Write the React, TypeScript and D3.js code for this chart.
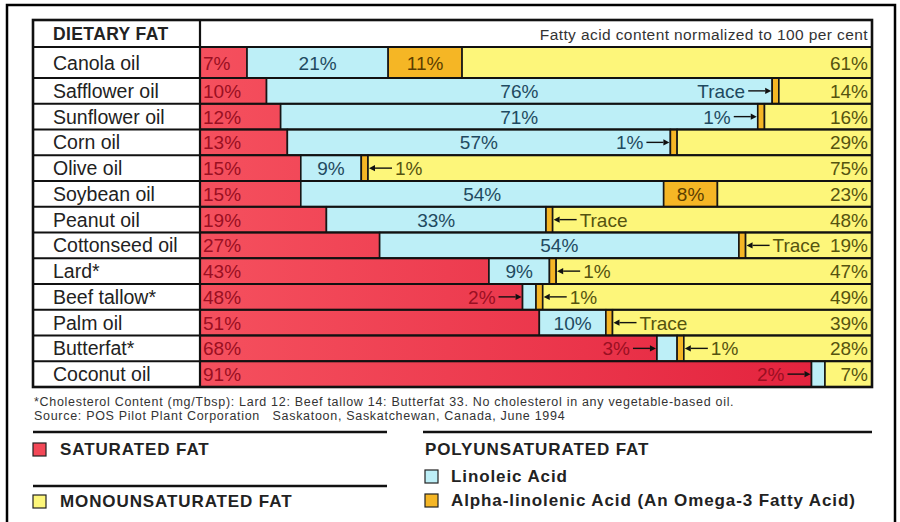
import React from 'react'
import * as d3 from 'd3'

// Fatty acid content, normalized to 100 per cent
const fats = [
    'Canola oil', 'Safflower oil', 'Sunflower oil', 'Corn oil', 'Olive oil', 'Soybean oil',
    'Peanut oil', 'Cottonseed oil', 'Lard*', 'Beef tallow*', 'Palm oil', 'Butterfat*', 'Coconut oil'
];
const saturated = [7, 10, 12, 13, 15, 15, 19, 27, 43, 48, 51, 68, 91];
const linoleic = [21, 76, 71, 57, 9, 54, 33, 54, 9, 2, 10, 3, 2];
const alphaLinolenic: (number | 'Trace' | null)[] = [11, 'Trace', 1, 1, 1, 8, 'Trace', 'Trace', 1, 1, 'Trace', 1, null];
const monounsaturated = [61, 14, 16, 29, 75, 23, 48, 19, 47, 49, 39, 28, 7];

// where the small values get their label (with an arrow when outside)
const linoleicLabel = ['in', 'in', 'in', 'in', 'in', 'in', 'in', 'in', 'in', 'left', 'in', 'left', 'left'];
const alphaLabel = ['in', 'left', 'left', 'left', 'right', 'in', 'right', 'right', 'right', 'right', 'right', 'right', 'none'];

const footnotes = [
    '*Cholesterol Content (mg/Tbsp): Lard 12: Beef tallow 14: Butterfat 33. No cholesterol in any vegetable-based oil.',
    'Source: POS Pilot Plant Corporation   Saskatoon, Saskatchewan, Canada, June 1994'
];

const width = 900;
const height = 522;
const tableLeft = 33, plotLeft = 200, plotRight = 872;
const tableTop = 20, headerBottom = 47, firstRowBottom = 78, tableBottom = 387;
const traceWidth = 1;

const font = "'Liberation Sans', Arial, Helvetica, sans-serif";
const fill = {sat: '#f34857', lin: '#bdeff7', ala: '#f5b625', mono: '#fdf67a'};
const ink = {sat: '#9a0f22', lin: '#1f4a60', ala: '#5c3e00', mono: '#55530f'};

const rest = d3.scaleBand().domain(fats.slice(1)).range([firstRowBottom, tableBottom]);
const rowTop = (i: number) => i === 0 ? headerBottom : rest(fats[i])!;
const rowHeight = (i: number) => i === 0 ? firstRowBottom - headerBottom : rest.bandwidth();

function Arrow({x1, x2, y}: {x1: number, x2: number, y: number}) {
    // arrowhead at x2
    const dir = x2 > x1 ? 1 : -1;
    const head = 6;
    return <g>
        <line x1={x1} x2={x2 - dir * head} y1={y} y2={y} stroke="#111" strokeWidth={1.4}/>
        <path d={`M${x2},${y} L${x2 - dir * head},${y - 3.2} L${x2 - dir * head},${y + 3.2} Z`} fill="#111"/>
    </g>;
}

function Row({i}: {i: number}) {
    const y0 = rowTop(i);
    const h = rowHeight(i);
    const cy = y0 + h / 2 + 7;
    const ala = alphaLinolenic[i];
    const segs = [
        {key: 'sat', v: saturated[i], label: `${saturated[i]}%`, pos: 'start'},
        {key: 'lin', v: linoleic[i], label: `${linoleic[i]}%`, pos: linoleicLabel[i] === 'left' ? 'left' : 'center'},
        {key: 'ala', v: ala == null ? 0 : ala === 'Trace' ? traceWidth : ala,
            label: ala === 'Trace' ? 'Trace' : `${ala}%`, pos: alphaLabel[i] === 'in' ? 'center' : alphaLabel[i]},
        {key: 'mono', v: monounsaturated[i], label: `${monounsaturated[i]}%`, pos: 'end'}
    ];
    const ends = d3.cumsum(segs, d => d.v);
    const x = d3.scaleLinear().domain([0, ends[ends.length - 1]]).range([plotLeft, plotRight]);
    const arrowLen = 22;
    const fs = 19;

    return <g>
        <rect x={tableLeft} y={y0} width={plotLeft - tableLeft} height={h} fill="#fff"/>
        <text x={53} y={cy} fontSize={19.5} fill="#222">{fats[i]}</text>
        {segs.map((s, k) => s.v > 0 && <rect key={s.key}
            x={x(ends[k] - s.v)} y={y0} width={x(ends[k]) - x(ends[k] - s.v)} height={h}
            fill={s.key === 'sat' ? 'url(#satGrad)' : (fill as any)[s.key]} stroke="#161616" strokeWidth={1.6}/>)}
        {segs.map((s, k) => {
            if (s.pos === 'none' || s.v === 0 && s.key !== 'ala') return null;
            const a = x(ends[k] - s.v), b = x(ends[k]);
            const color = (ink as any)[s.key];
            if (s.pos === 'start') return <text key={s.key} x={a + 3} y={cy} fontSize={fs} fill={color}>{s.label}</text>;
            if (s.pos === 'end') return <text key={s.key} x={b - 4} y={cy} fontSize={fs} fill={color} textAnchor="end">{s.label}</text>;
            if (s.pos === 'center') return <text key={s.key} x={(a + b) / 2} y={cy} fontSize={fs} fill={color} textAnchor="middle">{s.label}</text>;
            // outside labels point at the narrow bar; they sit on the neighbour's colour
            const host = s.pos === 'left' ? segs[k - 1].key : segs[k + 1].key;
            const hostInk = (ink as any)[host];
            if (s.pos === 'left') return <g key={s.key}>
                <Arrow x1={a - arrowLen - 2} x2={a - 1} y={y0 + h / 2}/>
                <text x={a - arrowLen - 5} y={cy} fontSize={fs} fill={hostInk} textAnchor="end">{s.label}</text>
            </g>;
            return <g key={s.key}>
                <Arrow x1={b + arrowLen + 2} x2={b + 1} y={y0 + h / 2}/>
                <text x={b + arrowLen + 5} y={cy} fontSize={fs} fill={hostInk}>{s.label}</text>
            </g>;
        })}
    </g>;
}

function Legend() {
    const sq = (x: number, y: number, c: string) =>
        <rect x={x} y={y} width={13} height={13} fill={c} stroke="#222" strokeWidth={1.2}/>;
    const label = (x: number, y: number, t: string) =>
        <text x={x} y={y} fontSize={17} fontWeight="bold" fill="#222" letterSpacing={0.9}>{t}</text>;
    return <g>
        <line x1={33} x2={387} y1={432} y2={432} stroke="#111" strokeWidth={2.5}/>
        <line x1={423} x2={872} y1={432} y2={432} stroke="#111" strokeWidth={2.5}/>
        <line x1={33} x2={387} y1={486} y2={486} stroke="#111" strokeWidth={2.5}/>
        {sq(33, 443, fill.sat)}
        {label(60, 455, 'SATURATED FAT')}
        {sq(33, 495, fill.mono)}
        {label(60, 507, 'MONOUNSATURATED FAT')}
        {label(425, 455, 'POLYUNSATURATED FAT')}
        {sq(425, 470, fill.lin)}
        {label(451, 482, 'Linoleic Acid')}
        {sq(425, 494, fill.ala)}
        {label(451, 506, 'Alpha-linolenic Acid (An Omega-3 Fatty Acid)')}
    </g>;
}

export default function App() {
    const rowIdx = d3.range(fats.length);
    return <svg width={width} height={height} viewBox={`0 0 ${width} ${height}`}
                style={{position: 'absolute', left: 0, top: 0, background: '#fff'}} fontFamily={font}>
        <defs>
            <linearGradient id="satGrad" gradientUnits="userSpaceOnUse" x1={plotLeft} x2={plotRight} y1={0} y2={0}>
                <stop offset="0" stopColor="#f5505e"/>
                <stop offset="1" stopColor="#e21f3b"/>
            </linearGradient>
        </defs>
        <rect x={0} y={0} width={width} height={height} fill="#fff"/>
        <rect x={7} y={5} width={888} height={530} fill="none" stroke="#000" strokeWidth={2.5}/>

        {/* header row */}
        <rect x={tableLeft} y={tableTop} width={plotRight - tableLeft} height={headerBottom - tableTop} fill="#fff"/>
        <text x={53} y={40} fontSize={17.5} fontWeight="bold" fill="#222" letterSpacing={0.4}>DIETARY FAT</text>
        <text x={868} y={40} fontSize={15.5} fill="#333" textAnchor="end" letterSpacing={0.4}>Fatty acid content normalized to 100 per cent</text>

        {rowIdx.map(i => <Row key={fats[i]} i={i}/>)}

        {/* grid */}
        {rowIdx.map(i => <line key={i} x1={tableLeft} x2={plotRight} y1={rowTop(i)} y2={rowTop(i)} stroke="#111" strokeWidth={2.2}/>)}
        <line x1={plotLeft} x2={plotLeft} y1={tableTop} y2={tableBottom} stroke="#111" strokeWidth={2.2}/>
        <rect x={tableLeft} y={tableTop} width={plotRight - tableLeft} height={tableBottom - tableTop}
              fill="none" stroke="#111" strokeWidth={2.6}/>

        {footnotes.map((t, k) => <text key={k} x={34} y={406 + k * 14} fontSize={12.5} fill="#333"
                                       letterSpacing={0.7} style={{whiteSpace: 'pre'}}>{t}</text>)}
        <Legend/>
    </svg>;
}
